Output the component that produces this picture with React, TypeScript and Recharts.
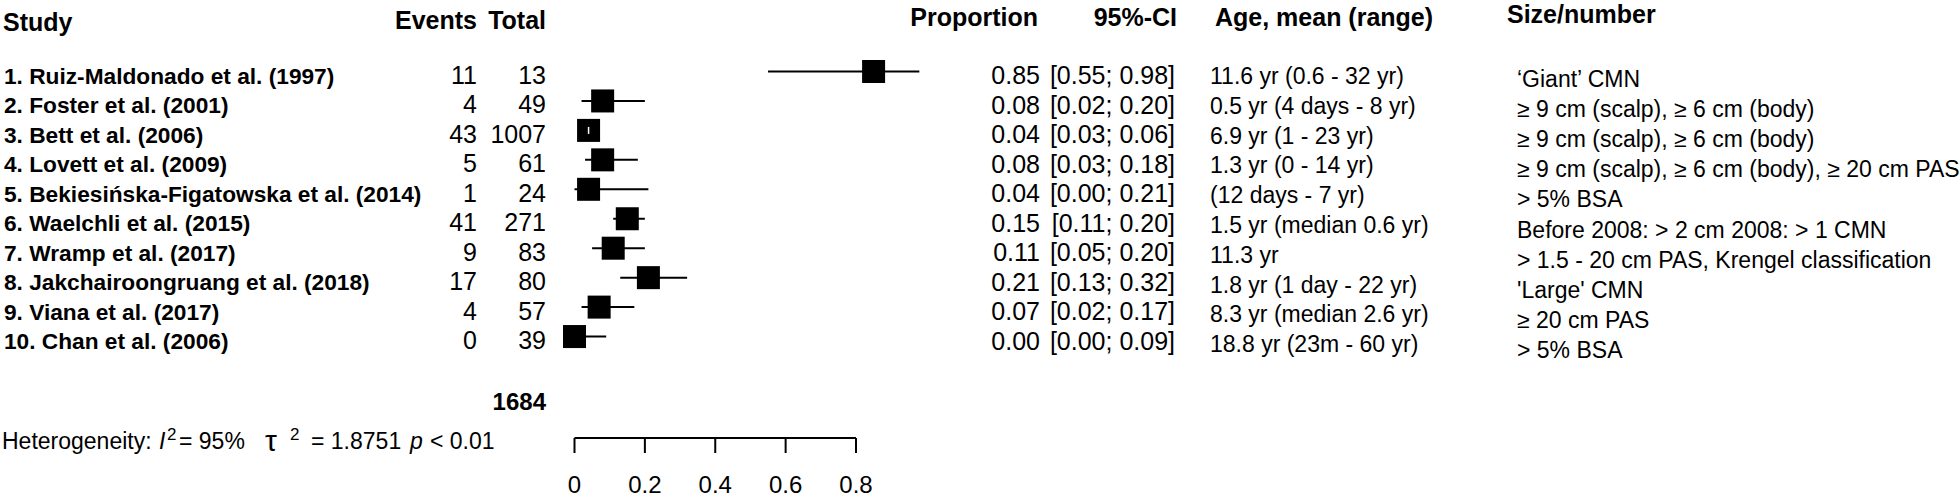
import React from "react";
import {
  ComposedChart,
  Scatter,
  XAxis,
  YAxis,
  ErrorBar,
  ReferenceLine,
  Customized,
} from "recharts";

// ---------- data ----------
const studies = [
  "1. Ruiz-Maldonado et al. (1997)",
  "2. Foster et al. (2001)",
  "3. Bett et al. (2006)",
  "4. Lovett et al. (2009)",
  "5. Bekiesińska-Figatowska et al. (2014)",
  "6. Waelchli et al. (2015)",
  "7. Wramp et al. (2017)",
  "8. Jakchairoongruang et al. (2018)",
  "9. Viana et al. (2017)",
  "10. Chan et al. (2006)",
];
const events = [11, 4, 43, 5, 1, 41, 9, 17, 4, 0];
const totals = [13, 49, 1007, 61, 24, 271, 83, 80, 57, 39];
const proportions = [0.85, 0.08, 0.04, 0.08, 0.04, 0.15, 0.11, 0.21, 0.07, 0.0];
const ciLower = [0.55, 0.02, 0.03, 0.03, 0.0, 0.11, 0.05, 0.13, 0.02, 0.0];
const ciUpper = [0.98, 0.2, 0.06, 0.18, 0.21, 0.2, 0.2, 0.32, 0.17, 0.09];
const ages = [
  "11.6 yr (0.6 - 32 yr)",
  "0.5 yr (4 days - 8 yr)",
  "6.9 yr (1 - 23 yr)",
  "1.3 yr (0 - 14 yr)",
  "(12 days - 7 yr)",
  "1.5 yr (median 0.6 yr)",
  "11.3 yr",
  "1.8 yr (1 day - 22 yr)",
  "8.3 yr (median 2.6 yr)",
  "18.8 yr (23m - 60 yr)",
];
const sizes = [
  "\u2018Giant\u2019 CMN",
  "\u2265 9 cm (scalp), \u2265 6 cm (body)",
  "\u2265 9 cm (scalp), \u2265 6 cm (body)",
  "\u2265 9 cm (scalp), \u2265 6 cm (body), \u2265 20 cm PAS",
  "> 5% BSA",
  "Before 2008: > 2 cm 2008: > 1 CMN",
  "> 1.5 - 20 cm PAS, Krengel classification",
  "'Large' CMN",
  "\u2265 20 cm PAS",
  "> 5% BSA",
];
const xTicks = [0, 0.2, 0.4, 0.6, 0.8];
const totalN = 1684;
const i2Text = "= 95%";
const tau2Text = "= 1.8751";
const pText = "< 0.01";

// ---------- layout ----------
const W = 1960;
const H = 498;
const FONT = "'Liberation Sans', Arial, Helvetica, sans-serif";
const AXIS_H = 60;
const PLOT_H = H - AXIS_H;
const X_PER_UNIT = 351.875;
const X_ZERO_PX = 574.5;
const X0 = -X_ZERO_PX / X_PER_UNIT;
const X1 = X0 + W / X_PER_UNIT;
const ROW_STEP = 29.45;
const ROW1_PX = 71.5;
const Y0 = 1 - ROW1_PX / ROW_STEP;
const Y1 = Y0 + PLOT_H / ROW_STEP;
const SQ = 23;

const fmt2 = (v: number) => v.toFixed(2);

const rows = studies.map((s, i) => ({
  row: i + 1,
  p: proportions[i],
  ci: [proportions[i] - ciLower[i], ciUpper[i] - proportions[i]],
  lo: ciLower[i],
  hi: ciUpper[i],
}));

const Square = (props: any) => {
  const { cx, cy, payload } = props;
  if (cx == null || cy == null) return null;
  const inside = (payload.hi - payload.lo) * X_PER_UNIT < SQ;
  return (
    <g>
      <rect x={cx - SQ / 2} y={cy - SQ / 2} width={SQ} height={SQ} fill="#000" />
      {inside && (
        <line x1={cx} x2={cx} y1={cy - 3.5} y2={cy + 3.5} stroke="#fff" strokeWidth={1.5} />
      )}
    </g>
  );
};

const Nothing = () => <g />;

const TableText = () => {
  const leftBase = (i: number) => 84 + i * 29.45;
  const ciBase = (i: number) => 84 + i * 29.55;
  const ageBase = (i: number) => 84 + i * 29.8;
  const sizeBase = (i: number) => 86.5 + i * 30.2;
  return (
    <g fontFamily={FONT} fill="#000">
      {/* headers */}
      <text x={3} y={31} fontSize={25} fontWeight="bold">Study</text>
      <text x={477} y={29} fontSize={25} fontWeight="bold" textAnchor="end">Events</text>
      <text x={546} y={29} fontSize={25} fontWeight="bold" textAnchor="end">Total</text>
      <text x={1038} y={26} fontSize={25} fontWeight="bold" textAnchor="end">Proportion</text>
      <text x={1177} y={26} fontSize={25} fontWeight="bold" textAnchor="end">95%-CI</text>
      <text x={1215} y={26} fontSize={25} fontWeight="bold">Age, mean (range)</text>
      <text x={1507} y={23} fontSize={25} fontWeight="bold">Size/number</text>

      {studies.map((s, i) => (
        <g key={s}>
          <text x={4} y={leftBase(i)} fontSize={22.7} fontWeight="bold">{s}</text>
          <text x={477} y={leftBase(i)} fontSize={25} textAnchor="end">{events[i]}</text>
          <text x={546} y={leftBase(i)} fontSize={25} textAnchor="end">{totals[i]}</text>
          <text x={1040} y={ciBase(i)} fontSize={25} textAnchor="end">{fmt2(proportions[i])}</text>
          <text x={1175} y={ciBase(i)} fontSize={25} textAnchor="end">
            {`[${fmt2(ciLower[i])}; ${fmt2(ciUpper[i])}]`}
          </text>
          <text x={1210} y={ageBase(i)} fontSize={23}>{ages[i]}</text>
          <text x={1517} y={sizeBase(i)} fontSize={23}>{sizes[i]}</text>
        </g>
      ))}

      <text x={546} y={410} fontSize={24} fontWeight="bold" textAnchor="end">{totalN}</text>

      {/* heterogeneity */}
      <text x={2} y={449} fontSize={23}>Heterogeneity:</text>
      <text x={159} y={449} fontSize={23} fontStyle="italic">I</text>
      <text x={167} y={440} fontSize={17}>2</text>
      <text x={179} y={449} fontSize={23}>{i2Text}</text>
      <text x={265} y={451} fontSize={30}>{"\u03c4"}</text>
      <text x={290} y={440} fontSize={17}>2</text>
      <text x={311} y={449} fontSize={23}>{tau2Text}</text>
      <text x={410} y={449} fontSize={23} fontStyle="italic">p</text>
      <text x={430} y={449} fontSize={23}>{pText}</text>
    </g>
  );
};

export default function App() {
  return (
    <div style={{ width: W, height: H, background: "#fff" }}>
      <style>{`body{margin:0;background:#fff;}`}</style>
      <ComposedChart
        width={W}
        height={H}
        data={rows}
        margin={{ top: 0, right: 0, bottom: 0, left: 0 }}
        style={{ fontFamily: FONT }}
      >
        <XAxis
          type="number"
          dataKey="p"
          domain={[X0, X1]}
          allowDataOverflow
          ticks={xTicks}
          tickFormatter={(v: number) => (v === 0 ? "0" : String(v))}
          axisLine={false}
          tickLine={{ stroke: "#000", strokeWidth: 2 }}
          tickSize={15}
          tickMargin={23}
          height={AXIS_H}
          tick={{ fill: "#000", fontSize: 24, fontFamily: FONT }}
          interval={0}
        />
        <YAxis
          type="number"
          dataKey="row"
          domain={[Y0, Y1]}
          allowDataOverflow
          reversed
          hide
        />
        <ReferenceLine
          segment={[
            { x: xTicks[0], y: Y1 },
            { x: xTicks[xTicks.length - 1], y: Y1 },
          ]}
          stroke="#000"
          strokeWidth={2}
          ifOverflow="visible"
        />
        <Scatter data={rows} shape={Nothing} isAnimationActive={false}>
          <ErrorBar
            dataKey="ci"
            direction="x"
            width={0}
            stroke="#000"
            strokeWidth={2}
            isAnimationActive={false}
          />
        </Scatter>
        <Scatter data={rows} shape={Square} isAnimationActive={false} />
        <Customized component={TableText} />
      </ComposedChart>
    </div>
  );
}
